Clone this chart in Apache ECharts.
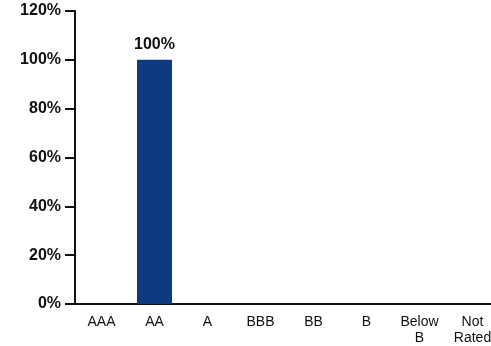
<!DOCTYPE html>
<html>
<head>
  <meta charset="UTF-8">
  <title>Rating distribution</title>
  <script src="https://cdn.jsdelivr.net/npm/echarts@6/dist/echarts.min.js"></script>
  <style>
    html, body { margin: 0; padding: 0; background: #fff; }
    #main { width: 491px; height: 346px; }
  </style>
</head>
<body>
<div id="main"></div>
<script type="text/javascript">
  // categories and values
  var ratings = ['AAA', 'AA', 'A', 'BBB', 'BB', 'B', 'Below\nB', 'Not\nRated'];
  var shares = [0, 100, 0, 0, 0, 0, 0, 0];
  var yTicks = [0, 20, 40, 60, 80, 100, 120];

  var myChart = echarts.init(document.getElementById('main'));
  myChart.setOption({
    animation: false,
    textStyle: { fontFamily: 'Liberation Sans, Arial, sans-serif' },
    // right edge runs past the canvas, like the cropped original
    grid: { left: 75, width: 424, top: 11, bottom: 42, outerBoundsMode: 'none' },
    xAxis: {
      type: 'category',
      data: ratings,
      axisLine: { lineStyle: { color: '#111', width: 2 } },
      axisTick: { show: false },
      axisLabel: { color: '#111', fontSize: 14, interval: 0, margin: 10, lineHeight: 16 }
    },
    yAxis: {
      type: 'value',
      min: yTicks[0],
      max: yTicks[yTicks.length - 1],
      interval: 20,
      splitLine: { show: false },
      axisLine: { show: true, lineStyle: { color: '#111', width: 2 } },
      axisTick: { show: true, length: 10, lineStyle: { color: '#111', width: 2 } },
      axisLabel: {
        color: '#111', fontSize: 16, fontWeight: 'bold', margin: 14,
        formatter: function (v) { return v + '%'; }
      }
    },
    series: [{
      type: 'bar',
      data: shares.map(function (v) { return v > 0 ? v : null; }),
      barWidth: 35,
      itemStyle: { color: '#0d3a80' },
      label: {
        show: true, position: 'top', distance: 7,
        color: '#111', fontSize: 16, fontWeight: 'bold',
        formatter: function (p) { return p.value + '%'; }
      }
    }]
  });
</script>
</body>
</html>
